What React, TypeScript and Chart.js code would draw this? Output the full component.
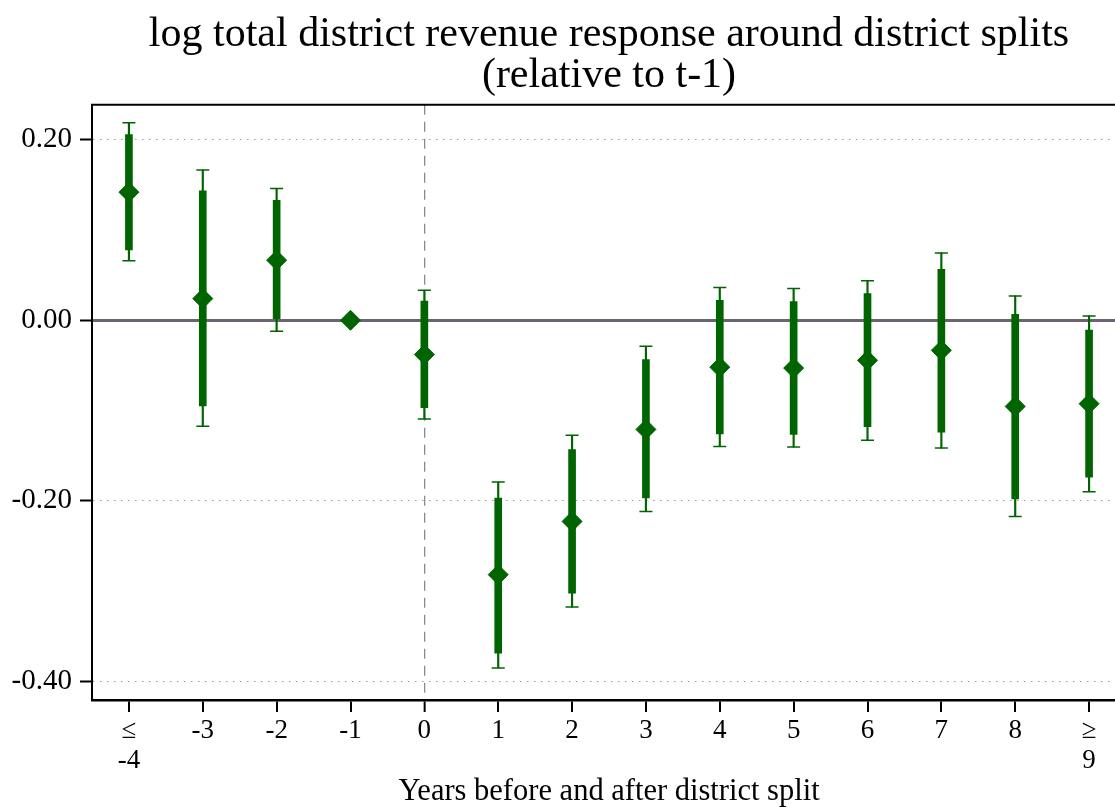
import React, { useEffect, useRef } from 'react';
import { Chart, registerables } from 'chart.js';

Chart.register(...registerables);

// ---- data ----
const categories: (string | string[])[] = [
  ['≤', '-4'], '-3', '-2', '-1', '0', '1', '2', '3', '4', '5', '6', '7', '8', ['≥', '9'],
];
const coef = [0.142, 0.024, 0.0666, 0, -0.038, -0.282, -0.223, -0.121, -0.052, -0.053, -0.0444, -0.0333, -0.0955, -0.0925];
const lo90 = [0.078, -0.095, 0.0, null, -0.097, -0.369, -0.3026, -0.197, -0.126, -0.1265, -0.118, -0.124, -0.198, -0.174];
const hi90 = [0.206, 0.1435, 0.133, null, 0.0214, -0.197, -0.1435, -0.0437, 0.0222, 0.0207, 0.0296, 0.0566, 0.0067, -0.011];
const lo95 = [0.066, -0.1176, -0.0122, null, -0.1095, -0.3855, -0.318, -0.212, -0.14, -0.1406, -0.133, -0.1417, -0.2175, -0.19];
const hi95 = [0.219, 0.1665, 0.146, null, 0.0333, -0.1794, -0.1276, -0.0289, 0.0363, 0.0352, 0.0437, 0.0747, 0.027, 0.0048];
const yTicks = [-0.4, -0.2, 0, 0.2];
const yMin = -0.421;
const yMax = 0.239;
const splitIndex = 4;

const titleLines = ['log total district revenue response around district splits', '(relative to t-1)'];
const xTitle = 'Years before and after district split';

const GREEN = '#006400';
const FONT = "'Liberation Serif', 'Times New Roman', serif";

const pairs = (lo: (number | null)[], hi: (number | null)[]) =>
  lo.map((l, i) => (l === null || hi[i] === null ? null : [l, hi[i] as number]));

const framePlugin = {
  id: 'frame',
  beforeDatasetsDraw(chart: any) {
    const { ctx, chartArea } = chart;
    const { left, right, top, bottom } = chartArea;
    ctx.save();
    ctx.strokeStyle = '#000';
    ctx.lineWidth = 2;
    ctx.beginPath();
    ctx.moveTo(left - 1, top);
    ctx.lineTo(right, top);
    ctx.lineTo(right, bottom);
    ctx.stroke();
    ctx.restore();
  },
};

export default function App() {
  const ref = useRef<HTMLCanvasElement | null>(null);

  useEffect(() => {
    if (!ref.current) return;
    const chart = new Chart(ref.current, {
      type: 'bar',
      data: {
        labels: categories as any,
        datasets: [
          {
            type: 'line',
            data: coef,
            showLine: false,
            pointStyle: 'rectRot',
            pointRadius: 10,
            backgroundColor: GREEN,
            borderColor: GREEN,
            borderWidth: 1,
            order: 1,
          } as any,
          {
            type: 'line',
            data: hi95,
            showLine: false,
            pointStyle: 'line',
            pointRadius: 6.5,
            borderColor: GREEN,
            borderWidth: 1.5,
            order: 2,
          } as any,
          {
            type: 'line',
            data: lo95,
            showLine: false,
            pointStyle: 'line',
            pointRadius: 6.5,
            borderColor: GREEN,
            borderWidth: 1.5,
            order: 2,
          } as any,
          {
            type: 'bar',
            data: pairs(lo90, hi90) as any,
            backgroundColor: GREEN,
            borderWidth: 0,
            barThickness: 7,
            grouped: false,
            order: 3,
          } as any,
          {
            type: 'bar',
            data: pairs(lo95, hi95) as any,
            backgroundColor: GREEN,
            borderWidth: 0,
            barThickness: 1.5,
            grouped: false,
            order: 4,
          } as any,
        ],
      },
      options: {
        animation: false,
        responsive: true,
        maintainAspectRatio: false,
        events: [],
        layout: { padding: { left: 0, right: 14, top: 0, bottom: 0 } },
        plugins: {
          legend: { display: false },
          tooltip: { enabled: false },
          title: {
            display: true,
            fullSize: false,
            text: titleLines,
            color: '#000',
            font: { family: FONT, size: 42, weight: 'normal', lineHeight: 41 / 42 },
            padding: { top: 14, bottom: 8.7 },
          },
        },
        scales: {
          x: {
            type: 'category',
            offset: true,
            grid: {
              offset: false,
              drawOnChartArea: true,
              color: (c: any) => (c.index === splitIndex ? '#8a8a8a' : 'rgba(0,0,0,0)'),
              lineWidth: (c: any) => (c.index === splitIndex ? 1.3 : 0),
              tickLength: 12,
              tickWidth: 2,
              tickColor: '#000',
            },
            border: { display: true, color: '#000', width: 2.5, dash: [10, 7] },
            ticks: {
              color: '#000',
              autoSkip: false,
              maxRotation: 0,
              padding: 4,
              font: { family: FONT, size: 27, lineHeight: 1.1 },
            },
            title: {
              display: true,
              text: xTitle,
              color: '#000',
              font: { family: FONT, size: 30.5, lineHeight: 1 },
              padding: { top: 0, bottom: 0 },
            },
            afterFit: (s: any) => {
              s.height = 107;
            },
          },
          y: {
            type: 'linear',
            min: yMin,
            max: yMax,
            afterBuildTicks: (s: any) => {
              s.ticks = yTicks.map((v) => ({ value: v }));
            },
            grid: {
              color: (c: any) => (c.tick && c.tick.value === 0 ? '#6b6470' : '#9a9a9a'),
              lineWidth: (c: any) => (c.tick && c.tick.value === 0 ? 3 : 1),
              tickLength: 12,
              tickWidth: 2,
              tickColor: '#000',
            },
            border: {
              display: true,
              color: '#000',
              width: 2,
              dash: (c: any) => (c.tick && c.tick.value === 0 ? [] : [1.5, 5.5]),
            },
            ticks: {
              color: '#000',
              padding: 8,
              font: { family: FONT, size: 29 },
              callback: (v: any) => Number(v).toFixed(2),
            },
            afterFit: (s: any) => {
              s.width = 92;
            },
          },
        },
      },
      plugins: [framePlugin],
    });
    return () => chart.destroy();
  }, []);

  return (
    <div style={{ position: 'absolute', left: 0, top: 0, width: 1115, height: 807, overflow: 'hidden', background: '#fff' }}>
      <div style={{ position: 'relative', width: 1140, height: 807 }}>
        <canvas ref={ref} />
      </div>
    </div>
  );
}
